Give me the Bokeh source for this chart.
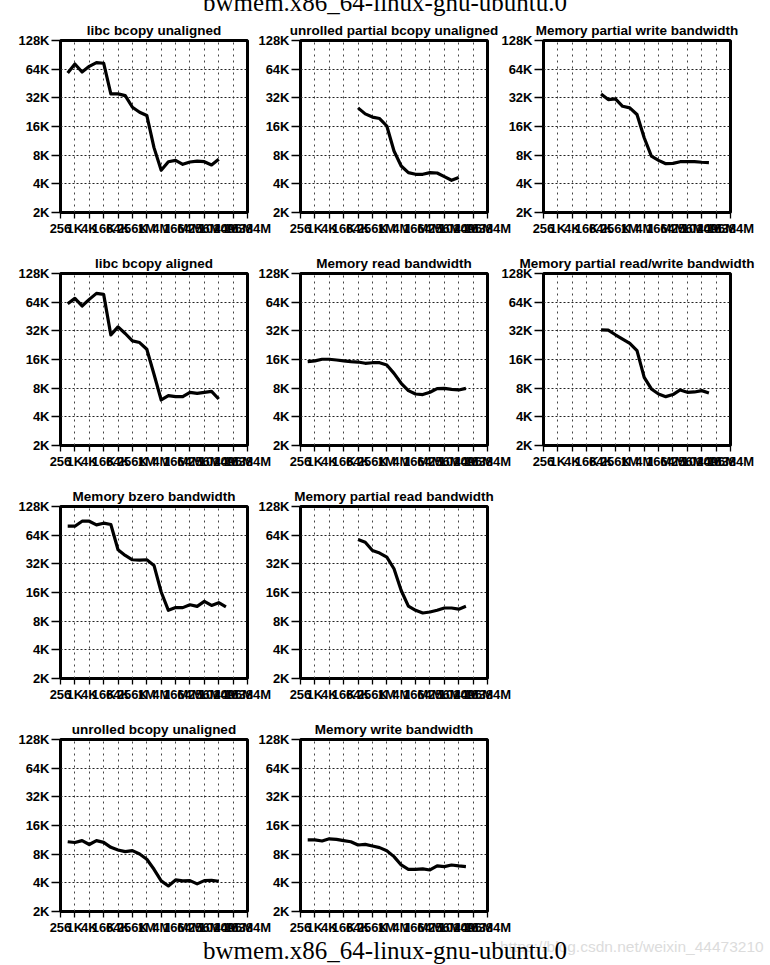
from bokeh.plotting import figure
from bokeh.models import Range1d, FixedTicker, Div
from bokeh.layouts import column, row
from bokeh.embed import file_html
from bokeh.resources import INLINE

MAIN_TITLE = "bwmem.x86_64-linux-gnu-ubuntu.0"
WATERMARK = "https://blog.csdn.net/weixin_44473210"

# message sizes in bytes (x values)
SIZES = [512, 1024, 2048, 4096, 8192, 16384, 32768, 65536, 131072, 262144,
         524288, 1048576, 2097152, 4194304, 8388608, 16777216, 33554432,
         67108864, 134217728, 268435456, 536870912, 1073741824, 2147483648]

X_TICKS = [256, 1024, 4096, 16384, 65536, 262144, 1048576, 4194304, 16777216,
           67108864, 268435456, 1073741824, 4294967296, 17179869184]
X_LABELS = ["256", "1K", "4K", "16K", "64K", "256K", "1M", "4M", "16M", "64M",
            "256M", "1024M", "4096M", "16384M"]
Y_TICKS = [2, 4, 8, 16, 32, 64, 128]
Y_LABELS = ["2K", "4K", "8K", "16K", "32K", "64K", "128K"]

# bandwidth values (in K MB/s)
libc_bcopy_unaligned = [58.4, 72.6, 59.8, 68.5, 75.1, 73.9, 35.2, 35.2, 33.8, 25.5, 22.6,
                        20.9, 9.6, 5.55, 6.83, 7.06, 6.41, 6.78, 6.94, 6.83, 6.31, 7.23]
unrolled_partial_bcopy_unaligned = [25.1, 21.7, 20.1, 19.4, 16.2, 8.84, 6.16, 5.24, 5.04,
                                    5.04, 5.24, 5.2, 4.76, 4.36, 4.65]
partial_write = [35.2, 30.7, 31.2, 26.1, 25.1, 21.4, 12.2, 7.83, 7.06, 6.51, 6.56, 6.83,
                 6.83, 6.83, 6.74, 6.69]
libc_bcopy_aligned = [61.7, 70.2, 58.4, 68.5, 79.2, 77.3, 29.0, 35.2, 30.0, 25.1, 24.1,
                      20.5, 11.2, 6.01, 6.67, 6.51, 6.51, 7.23, 7.06, 7.23, 7.41, 6.16]
mem_read = [15.2, 15.5, 16.1, 16.1, 15.8, 15.5, 15.2, 15.05, 14.6, 14.8, 14.8, 14.0,
            11.45, 9.0, 7.54, 6.95, 6.85, 7.24, 7.91, 7.97, 7.78, 7.66, 7.97]
partial_rdwr = [32.8, 32.6, 29.1, 26.2, 23.6, 19.8, 10.4, 7.85, 6.95, 6.52, 6.85, 7.66,
                7.24, 7.3, 7.54, 7.13]
mem_bzero = [79.5, 79.5, 89.7, 89.7, 82.1, 85.5, 82.8, 45.0, 39.2, 35.3, 35.0, 35.3,
             30.8, 16.2, 10.4, 11.1, 11.1, 11.9, 11.45, 12.9, 11.7, 12.5, 11.3]
partial_read = [57.6, 54.0, 44.2, 41.5, 37.6, 28.4, 16.8, 11.5, 10.4, 9.75, 9.99, 10.4,
                11.0, 11.0, 10.7, 11.45]
unrolled_bcopy_unaligned = [10.8, 10.6, 11.1, 10.1, 11.1, 10.65, 9.44, 8.85, 8.5, 8.71,
                            8.04, 7.07, 5.55, 4.19, 3.71, 4.29, 4.19, 4.22, 3.9, 4.22,
                            4.26, 4.16]
mem_write = [11.3, 11.3, 11.0, 11.6, 11.45, 11.1, 10.8, 9.99, 10.15, 9.75, 9.37, 8.71,
             7.54, 6.16, 5.55, 5.55, 5.6, 5.46, 6.02, 5.92, 6.16, 6.02, 5.92]

FONT = "Liberation Sans"
# (left border, right border, css left margin) for each column; figures overlap a
# little so that overflowing tick labels are not cut off
COLS = [(60, 24, 0), (52, 24, -23), (52, 30, -20)]
FRAME_W, FRAME_H = 187, 172
TOP_B, BOT_B = 28, 33


def panel(title, xs, ys, col):
    bl, br, ml = COLS[col]
    p = figure(width=bl + FRAME_W + br, height=TOP_B + FRAME_H + BOT_B,
               x_axis_type="log", y_axis_type="log",
               x_range=Range1d(X_TICKS[0], X_TICKS[-1]),
               y_range=Range1d(Y_TICKS[0], Y_TICKS[-1]),
               output_backend="svg", toolbar_location=None,
               min_border_left=bl, min_border_right=br,
               min_border_top=TOP_B, min_border_bottom=BOT_B,
               background_fill_color="white", border_fill_color=None,
               margin=(0, 0, 0, ml))
    p.title.text = title
    p.title.align = "center"
    p.title.text_font = FONT
    p.title.text_font_size = "13.5px"
    p.title.text_font_style = "bold"
    p.title.text_color = "black"
    p.title.standoff = 6
    p.outline_line_color = "black"
    p.outline_line_width = 3
    p.outline_line_alpha = 1.0

    p.xaxis.ticker = FixedTicker(ticks=X_TICKS, minor_ticks=[])
    p.xaxis.major_label_overrides = dict(zip(X_TICKS, X_LABELS))
    p.yaxis.ticker = FixedTicker(ticks=Y_TICKS, minor_ticks=[])
    p.yaxis.major_label_overrides = dict(zip(Y_TICKS, Y_LABELS))
    for ax in (p.xaxis, p.yaxis):
        ax.axis_line_color = None
        ax.major_tick_in = 0
        ax.minor_tick_line_color = None
        ax.major_tick_line_color = "black"
        ax.major_tick_line_width = 1.3
        ax.major_label_text_font = FONT
        ax.major_label_text_font_size = "13px"
        ax.major_label_text_font_style = "bold"
        ax.major_label_text_color = "black"
    p.xaxis.major_tick_out = 6
    p.xaxis.major_label_standoff = 2
    p.yaxis.major_tick_out = 9
    p.yaxis.major_label_standoff = 2

    p.xgrid.grid_line_color = "#444444"
    p.xgrid.grid_line_dash = "2 4"
    p.xgrid.grid_line_width = 1
    p.ygrid.grid_line_color = "#222222"
    p.ygrid.grid_line_dash = "2 2"
    p.ygrid.grid_line_width = 1

    p.line(xs, ys, line_width=3.2, line_color="black", line_join="round")
    return p


p1 = panel("libc bcopy unaligned", SIZES[:22], libc_bcopy_unaligned, 0)
p2 = panel("unrolled partial bcopy unaligned", SIZES[7:22], unrolled_partial_bcopy_unaligned, 1)
p3 = panel("Memory partial write bandwidth", SIZES[7:23], partial_write, 2)
p4 = panel("libc bcopy aligned", SIZES[:22], libc_bcopy_aligned, 0)
p5 = panel("Memory read bandwidth", SIZES[:23], mem_read, 1)
p6 = panel("Memory partial read/write bandwidth", SIZES[7:23], partial_rdwr, 2)
p7 = panel("Memory bzero bandwidth", SIZES[:23], mem_bzero, 0)
p8 = panel("Memory partial read bandwidth", SIZES[7:23], partial_read, 1)
p10 = panel("unrolled bcopy unaligned", SIZES[:22], unrolled_bcopy_unaligned, 0)
p11 = panel("Memory write bandwidth", SIZES[:23], mem_write, 1)

title_style = ("position:absolute; left:0px; width:770px; text-align:center; "
               "font-family:'Liberation Serif','Times New Roman',serif; font-size:25px; "
               "line-height:25px; white-space:nowrap; color:#000;")

top = Div(text=f'<div style="position:relative; width:770px; height:12px;">'
               f'<div style="{title_style} top:-10px;">{MAIN_TITLE}</div></div>',
          width=770, height=12, margin=(0, 0, 0, 0))

bottom = Div(text=f'<div style="position:relative; width:770px; height:21px;">'
                  f'<div style="position:absolute; left:500px; top:-6px; font-family:\'Liberation Sans\',sans-serif; '
                  f'font-size:15.5px; line-height:18px; color:#dcdcdc; white-space:nowrap;">{WATERMARK}</div>'
                  f'<div style="{title_style} top:-6px;">{MAIN_TITLE}</div></div>',
             width=770, height=21, margin=(0, 0, 0, 0))

layout = column(top,
                row(p1, p2, p3),
                row(p4, p5, p6),
                row(p7, p8),
                row(p10, p11),
                bottom)

open("out.html", "w").write(file_html(layout, INLINE))
